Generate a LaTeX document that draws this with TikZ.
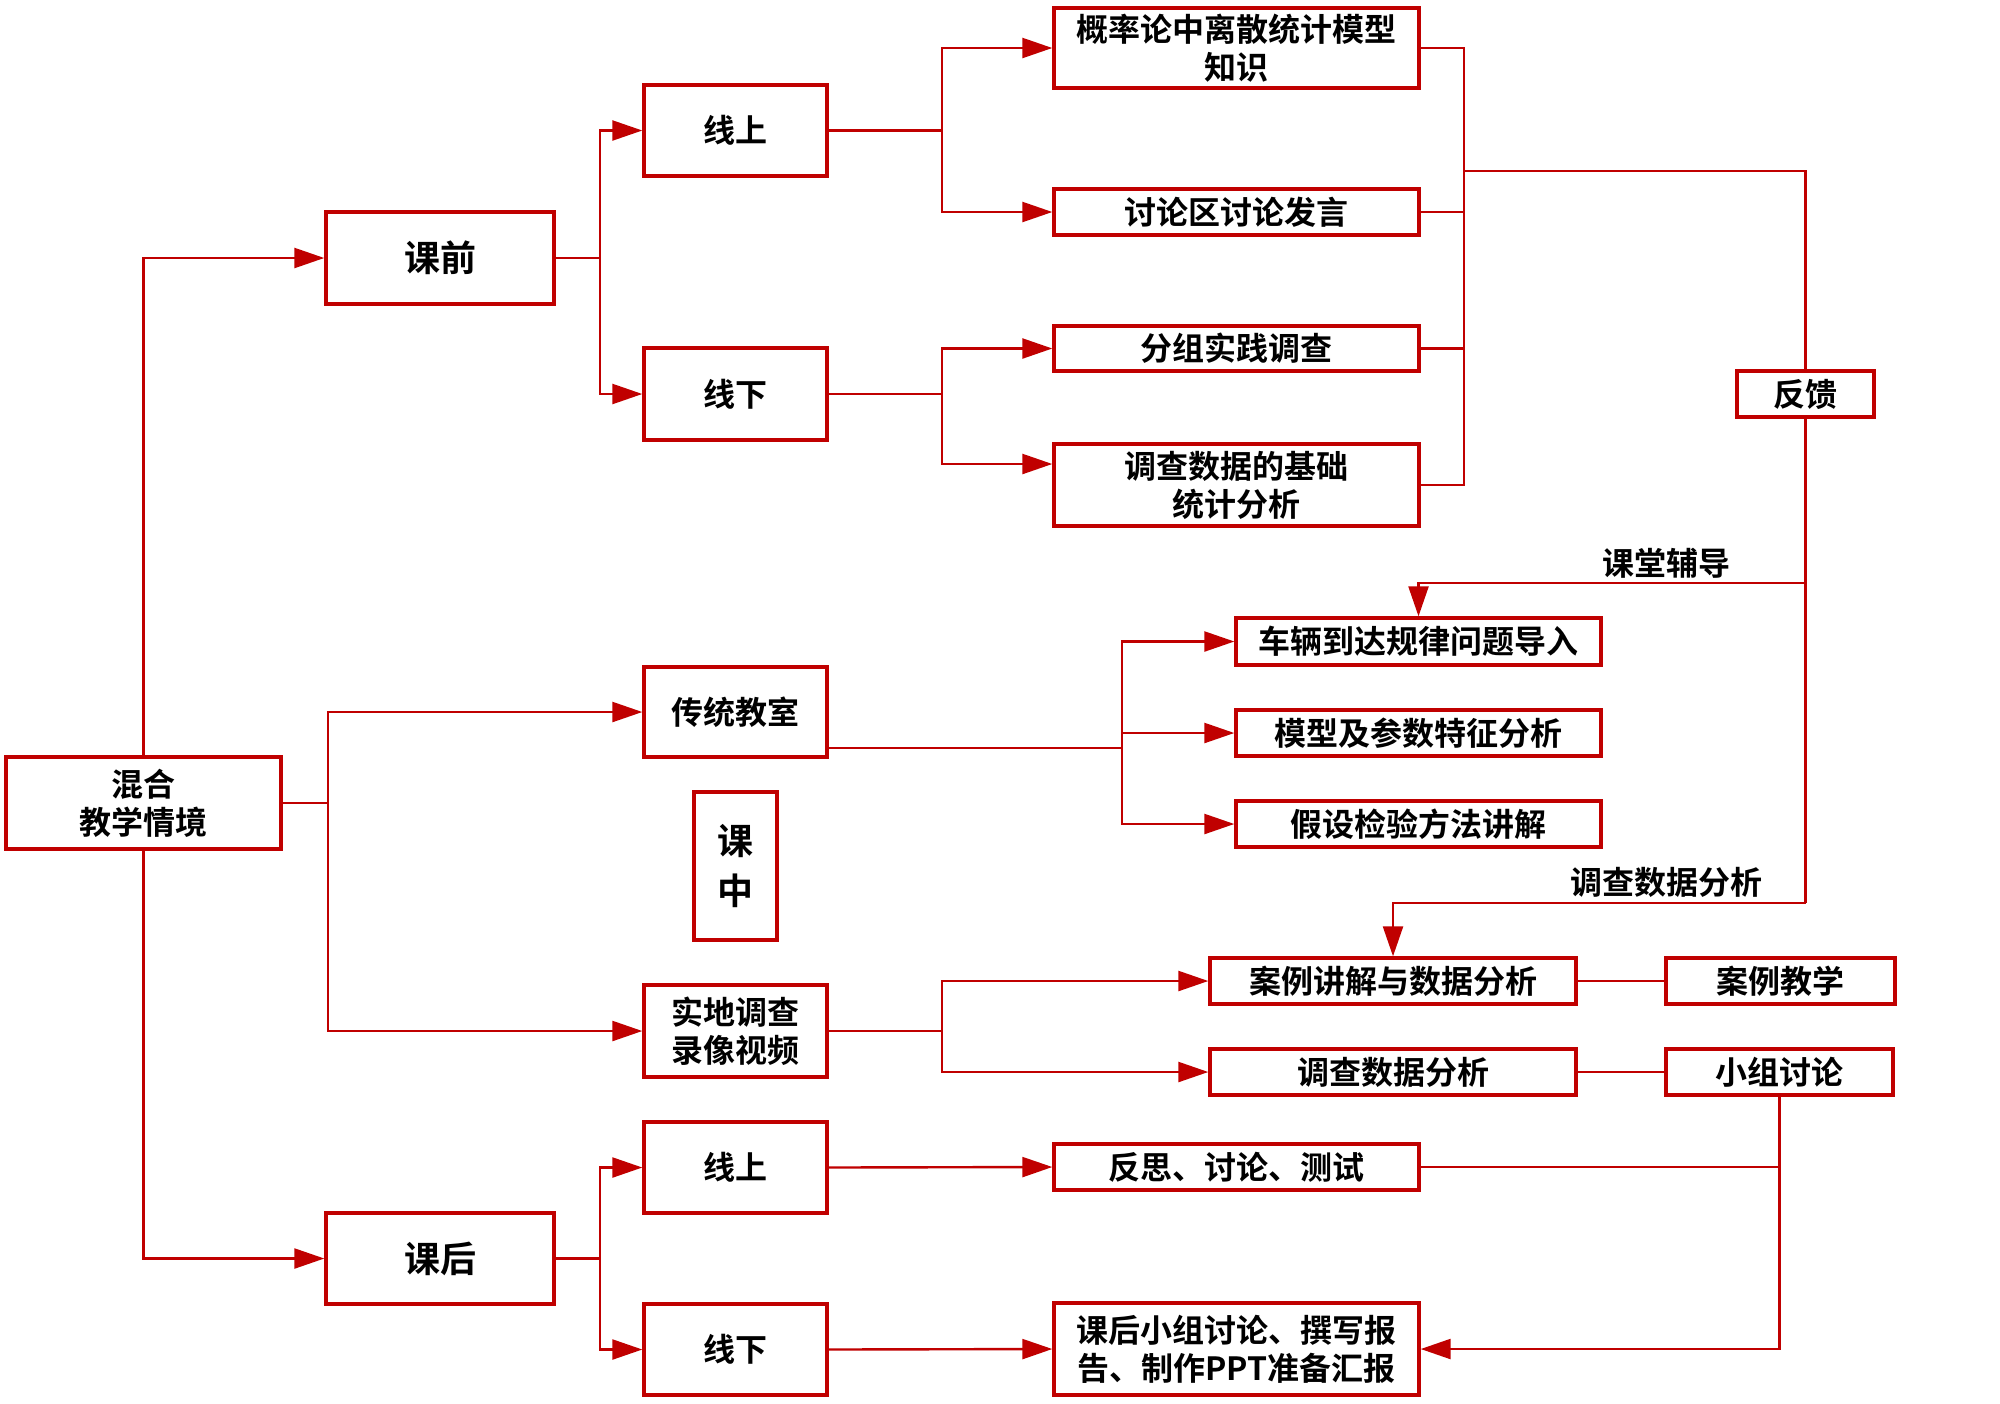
\documentclass[tikz,border=0pt]{standalone}
\usepackage{fontspec}
\setmainfont{Noto Sans CJK SC}[BoldFont={Noto Sans CJK SC Bold}]
\usetikzlibrary{arrows.meta}
\definecolor{dred}{RGB}{192,0,0}
\tikzset{
  box/.style={draw=dred,line width=1.7pt,inner sep=0pt,align=center,
    font=\fontsize{16}{19}\selectfont\bfseries},
  big/.style={font=\fontsize{18}{23}\selectfont\bfseries},
  sz/.style 2 args={minimum width=#1*0.5pt,minimum height=#2*0.5pt},
  conn/.style={draw=dred,line width=1.2pt},
  arr/.style={conn,-{Triangle[length=15pt,width=10pt]}},
  lbl/.style={inner sep=0pt,font=\fontsize{16}{19}\selectfont\bfseries},
}
\begin{document}
\begin{tikzpicture}[x=0.5pt,y=-0.5pt]
\useasboundingbox[fill=white] (0,0) rectangle (2000,1403);
% left column
\node[box,sz={275}{92}] (hh) at (143.5,803) {混合\\教学情境};
\node[box,big,sz={228}{92}] (kq) at (440,258) {课前};
\node[box,big,sz={228}{91}] (kh) at (440,1258.5) {课后};
% second column
\node[box,sz={183}{91}] (xs1) at (735.5,130.5) {线上};
\node[box,sz={183}{92}] (xx1) at (735.5,394) {线下};
\node[box,sz={183}{90}] (ct) at (735.5,712) {传统教室};
\node[box,big,sz={83}{148}] (kz) at (735.5,866) {课\\[2pt]中};
\node[box,sz={183}{92}] (sd) at (735.5,1031) {实地调查\\录像视频};
\node[box,sz={183}{91}] (xs2) at (735.5,1167.5) {线上};
\node[box,sz={183}{91}] (xx2) at (735.5,1349.5) {线下};
% third column
\node[box,sz={365}{80}] (gl) at (1236.5,48) {概率论中离散统计模型\\知识};
\node[box,sz={365}{46}] (tl) at (1236.5,212) {讨论区讨论发言};
\node[box,sz={365}{45}] (fz) at (1236.5,348.5) {分组实践调查};
\node[box,sz={365}{82}] (dc) at (1236.5,485) {调查数据的基础\\统计分析};
\node[box,sz={137}{46}] (fk) at (1805.5,394) {反馈};
\node[box,sz={365}{47}] (cl) at (1418.5,641.5) {车辆到达规律问题导入};
\node[box,sz={365}{46}] (mx) at (1418.5,733) {模型及参数特征分析};
\node[box,sz={365}{46}] (js) at (1418.5,824) {假设检验方法讲解};
\node[box,sz={366}{46}] (al) at (1393,981) {案例讲解与数据分析};
\node[box,sz={229}{46}] (aj) at (1780.5,981) {案例教学};
\node[box,sz={366}{46}] (dd) at (1393,1072) {调查数据分析};
\node[box,sz={227}{46}] (xz) at (1779.5,1072) {小组讨论};
\node[box,sz={365}{46}] (fs) at (1236.5,1167) {反思、讨论、测试};
\node[box,sz={365}{92}] (hb) at (1236.5,1349) {课后小组讨论、撰写报\\告、制作PPT准备汇报};
% labels
\node[lbl] (l1) at (1666,563) {课堂辅导};
\node[lbl] (l2) at (1666,882) {调查数据分析};
% helper coordinates
\coordinate (dcin) at ([yshift=10.5pt]dc.west);
\coordinate (ctout) at ([yshift=-18pt]ct.east);
\coordinate (bt) at (1464,48);
\coordinate (bm) at (1464,171);
\coordinate (bb) at (1464,485);
\coordinate (f1) at (1805.5,583);
\coordinate (f2) at (1805.5,903);
% connectors from 混合
\draw[arr] (hh.north) |- (kq.west);
\draw[arr] (hh.south) |- (kh.west);
\draw[arr] (hh.east) -- ++(45,0) |- (ct.west);
\draw[arr] (hh.east) -- ++(45,0) |- (sd.west);
% 课前
\draw[arr] (kq.east) -- ++(44,0) |- (xs1.west);
\draw[arr] (kq.east) -- ++(44,0) |- (xx1.west);
\draw[arr] (xs1.east) -- ++(113,0) |- (gl.west);
\draw[arr] (xs1.east) -- ++(113,0) |- (tl.west);
\draw[arr] (xx1.east) -- ++(113,0) |- (fz.west);
\draw[arr] (xx1.east) -- ++(113,0) |- (dcin);
% feedback bus
\draw[conn] (gl.east) -- (bt) -- (bb) -- (dc.east);
\draw[conn] (tl.east) -- (tl.east -| bt);
\draw[conn] (fz.east) -- (fz.east -| bt);
\draw[conn] (bm) -| (fk.north);
\draw[conn] (fk.south) -- (f2);
\draw[arr] (f1) -| (cl.north);
\draw[arr] (f2) -| (al.north);
% 传统教室
\draw[arr] (ctout) -- ++(293,0) |- (cl.west);
\draw[arr] (ctout) -- ++(293,0) |- (mx.west);
\draw[arr] (ctout) -- ++(293,0) |- (js.west);
% 实地调查
\draw[arr] (sd.east) -- ++(113,0) |- (al.west);
\draw[arr] (sd.east) -- ++(113,0) |- (dd.west);
\draw[conn] (al.east) -- (aj.west);
\draw[conn] (dd.east) -- (xz.west);
\draw[arr] (xz.south) |- (hb.east);
\draw[conn] (fs.east) -- (fs.east -| xz.south);
% 课后
\draw[arr] (kh.east) -- ++(44,0) |- (xs2.west);
\draw[arr] (kh.east) -- ++(44,0) |- (xx2.west);
\draw[arr] (xs2.east) -- (fs.west);
\draw[arr] (xx2.east) -- (hb.west);
\end{tikzpicture}
\end{document}
